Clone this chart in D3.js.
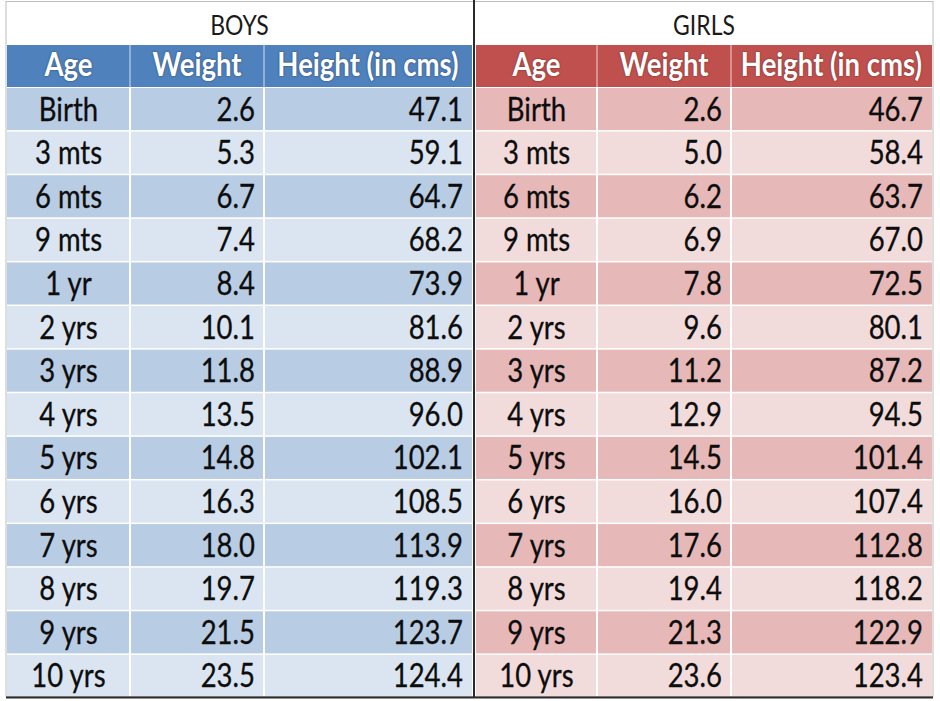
<!DOCTYPE html>
<html>
<head>
<meta charset="utf-8">
<script src="https://cdn.jsdelivr.net/npm/d3@7"></script>
<style>
  html, body { margin: 0; padding: 0; background: #ffffff; }
  svg { display: block; }
</style>
</head>
<body>
<svg id="chart" width="940" height="701"></svg>
<script>
// ---- data ----
const groups = ["BOYS", "GIRLS"];
const headers = ["Age", "Weight", "Height (in cms)"];
const ages = ["Birth", "3 mts", "6 mts", "9 mts", "1 yr", "2 yrs", "3 yrs", "4 yrs",
              "5 yrs", "6 yrs", "7 yrs", "8 yrs", "9 yrs", "10 yrs"];
const boysWeight = [2.6, 5.3, 6.7, 7.4, 8.4, 10.1, 11.8, 13.5, 14.8, 16.3, 18.0, 19.7, 21.5, 23.5];
const boysHeight = [47.1, 59.1, 64.7, 68.2, 73.9, 81.6, 88.9, 96.0, 102.1, 108.5, 113.9, 119.3, 123.7, 124.4];
const girlsWeight = [2.6, 5.0, 6.2, 6.9, 7.8, 9.6, 11.2, 12.9, 14.5, 16.0, 17.6, 19.4, 21.3, 23.6];
const girlsHeight = [46.7, 58.4, 63.7, 67.0, 72.5, 80.1, 87.2, 94.5, 101.4, 107.4, 112.8, 118.2, 122.9, 123.4];

// ---- layout / style ----
const FONT = "Lato, 'Open Sans', 'Noto Sans', sans-serif";
const theme = {
  BOYS:  { head: "#4f81bd", dark: "#b8cce4", light: "#dbe5f1", edges: [7, 130, 264, 472] },
  GIRLS: { head: "#c0504d", dark: "#e6b8b7", light: "#f2dcdb", edges: [476, 597, 731, 932] }
};
const series = {
  BOYS:  [ages, boysWeight, boysHeight],
  GIRLS: [ages, girlsWeight, girlsHeight]
};
const fmt = d3.format(".1f");

const svg = d3.select("#chart");

const rowY = d3.scaleBand().domain(ages).range([88, 697]).paddingInner(0.035).paddingOuter(0).align(0);
const headTop = 45, headBottom = 87;

// condensed text helper (reference uses a narrow face)
function placeText(sel, xf, yf, sx) {
  sel.attr("transform", (d, i) => `translate(${xf(d, i)},${yf(d, i)}) scale(${sx},1)`);
}

groups.forEach(g => {
  const t = theme[g];
  const colX = d3.scaleOrdinal().domain(headers).range(t.edges.slice(0, 3));
  const colW = h => {
    const i = headers.indexOf(h);
    return t.edges[i + 1] - t.edges[i];
  };
  const G = svg.append("g");

  // title
  G.append("text")
    .attr("text-anchor", "middle")
    .attr("font-family", FONT)
    .attr("font-size", 27)
    .attr("fill", "#1a1a1a")
    .text(g)
    .call(placeText, () => (t.edges[0] + t.edges[3]) / 2, () => 35, 0.85);

  // header background
  G.append("rect")
    .attr("x", t.edges[0]).attr("y", headTop)
    .attr("width", t.edges[3] - t.edges[0]).attr("height", headBottom - headTop)
    .attr("fill", t.head);
  G.selectAll("line.hsep").data(headers.slice(1)).join("line")
    .attr("x1", h => colX(h)).attr("x2", h => colX(h))
    .attr("y1", headTop).attr("y2", headBottom)
    .attr("stroke", "#ffffff").attr("stroke-opacity", 0.5).attr("stroke-width", 1.5);
  G.selectAll("text.head").data(headers).join("text")
    .attr("text-anchor", "middle")
    .attr("font-family", FONT)
    .attr("font-size", 32)
    .attr("font-weight", "bold")
    .attr("fill", "#ffffff")
    .style("text-shadow", "0 0 2px rgba(0,0,0,0.5)")
    .text(h => h)
    .call(placeText, h => colX(h) + colW(h) / 2, () => 76, 0.86);

  // data cells
  const cols = series[g];
  headers.forEach((h, ci) => {
    const vals = cols[ci];
    G.selectAll(null).data(vals).join("rect")
      .attr("x", colX(h) + (ci === 0 ? 0 : 1))
      .attr("y", (d, i) => rowY(ages[i]))
      .attr("width", colW(h) - (ci === 1 ? 2 : 1))
      .attr("height", rowY.bandwidth())
      .attr("fill", (d, i) => i % 2 === 0 ? t.dark : t.light);

    G.selectAll(null).data(vals).join("text")
      .attr("text-anchor", ci === 0 ? "middle" : "end")
      .attr("font-family", FONT)
      .attr("font-size", 32)
      .attr("fill", "#0d0d0d")
      .attr("stroke", "#0d0d0d").attr("stroke-width", 0.3)
      .text(d => ci === 0 ? d : fmt(d))
      .call(placeText,
            () => ci === 0 ? colX(h) + colW(h) / 2 : colX(h) + colW(h) - 9,
            (d, i) => rowY(ages[i]) + rowY.bandwidth() / 2 + 11.5,
            0.86);
  });
});

// outer frame
svg.append("rect")
  .attr("x", 6).attr("y", 1.5).attr("width", 927).attr("height", 695)
  .attr("fill", "none").attr("stroke", "#bdbdbd").attr("stroke-width", 1);
// centre divider
svg.append("line")
  .attr("x1", 474).attr("x2", 474).attr("y1", 0).attr("y2", 698)
  .attr("stroke", "#2b2b2b").attr("stroke-width", 2);
// bottom rule
svg.append("line")
  .attr("x1", 6).attr("x2", 933).attr("y1", 697.5).attr("y2", 697.5)
  .attr("stroke", "#2b2b2b").attr("stroke-width", 2);
</script>
</body>
</html>
